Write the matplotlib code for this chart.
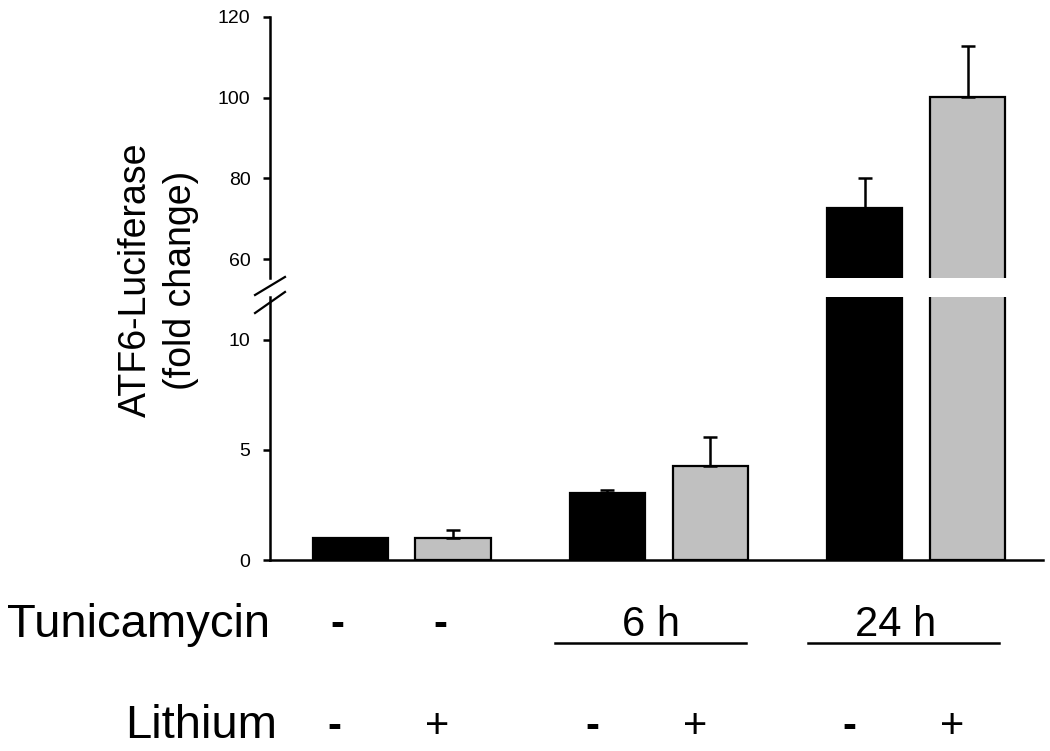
import numpy as np
import matplotlib
matplotlib.use("Agg")
import matplotlib.pyplot as plt
from matplotlib.lines import Line2D

plt.rcParams['font.family'] = ['Liberation Sans', 'DejaVu Sans']

# data
x_pos = [0, 1, 2.5, 3.5, 5, 6]
means = [1.0, 1.0, 3.05, 4.25, 72.7, 100.2]
errors = [0.0, 0.36, 0.12, 1.35, 7.3, 12.6]
colors = ['black', '#c0c0c0', 'black', '#c0c0c0', 'black', '#c0c0c0']
tunicamycin = ['-', '-']
lithium = ['-', '+', '-', '+', '-', '+']
time_labels = ['6 h', '24 h']
lower_ticks = [0, 5, 10]
upper_ticks = [60, 80, 100, 120]

fig = plt.figure(figsize=(10.5, 7.51), dpi=100)
ax_lo = fig.add_axes([0.257, 0.2543, 0.736, 0.3502])
ax_hi = fig.add_axes([0.257, 0.6298, 0.736, 0.3476])

for ax in (ax_lo, ax_hi):
    ax.bar(x_pos, means, width=0.73, color=colors, edgecolor='black', linewidth=1.6,
           yerr=[np.zeros(len(errors)), errors], capsize=5,
           error_kw=dict(elinewidth=1.8, capthick=1.8, ecolor='black'))
    ax.set_xlim(-0.78, 6.73)
    ax.set_xticks([])
    ax.spines['top'].set_visible(False)
    ax.spines['right'].set_visible(False)
    ax.spines['left'].set_linewidth(1.8)
    ax.spines['bottom'].set_linewidth(1.8)
    ax.tick_params(axis='y', length=5, width=1.8, pad=9, labelsize=14)

ax_lo.set_ylim(0, 11.95)
ax_lo.set_yticks(lower_ticks)
ax_hi.set_ylim(55.3, 120)
ax_hi.set_yticks(upper_ticks)
ax_hi.spines['bottom'].set_visible(False)

# break marks on the y axis
for y0, y1 in [(0.6072, 0.6312), (0.5832, 0.6112)]:
    fig.add_artist(Line2D([0.2429, 0.2714], [y0, y1], color='black', lw=1.6))

fig.text(0.151, 0.627, 'ATF6-Luciferase\n(fold change)', rotation=90,
         ha='center', va='center', multialignment='center', fontsize=27, linespacing=1.3)

# treatment rows under the axis
trans = ax_lo.get_xaxis_transform()
fig.text(0.007, 0.152, 'Tunicamycin', fontsize=34, ha='left', va='baseline')
fig.text(0.264, 0.017, 'Lithium', fontsize=34, ha='right', va='baseline')

def sign_weight(s):
    # the dashes are drawn heavier than the plus signs
    return 'bold' if s == '-' else 'normal'

for i, s in enumerate(tunicamycin):
    ax_lo.text(x_pos[i] - 0.12, -0.29, s, transform=trans, fontsize=30,
               fontweight=sign_weight(s), ha='center', va='baseline')
for i, s in enumerate(lithium):
    ax_lo.text(x_pos[i] - 0.15, -0.675, s, transform=trans, fontsize=30,
               fontweight=sign_weight(s), ha='center', va='baseline')
for k, lab in enumerate(time_labels):
    mid = (x_pos[2 + 2 * k] + x_pos[3 + 2 * k]) / 2
    ax_lo.text(mid - 0.08 - 0.12 * k, -0.29, lab, transform=trans, fontsize=30,
               ha='center', va='baseline')
    lc = mid - 0.08 - 0.04 * k
    ax_lo.plot([lc - 0.93, lc + 0.93], [-0.315, -0.315], transform=trans,
               color='black', lw=1.8, clip_on=False)

fig.savefig('out.png', dpi=100)
